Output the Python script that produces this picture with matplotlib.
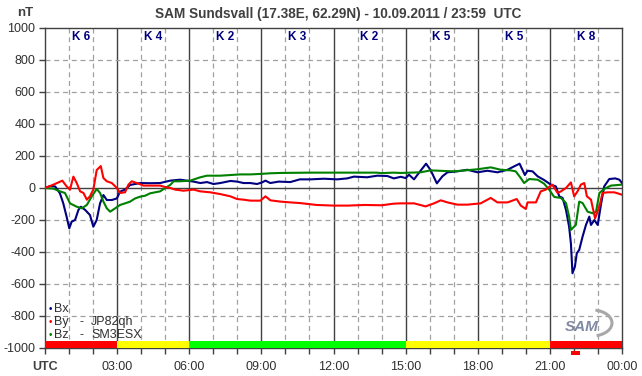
import matplotlib
matplotlib.use("Agg")
import matplotlib.pyplot as plt
from matplotlib.patches import Rectangle, Arc

plt.rcParams['font.family'] = ['Liberation Sans', 'DejaVu Sans']

title = "SAM Sundsvall (17.38E, 62.29N) - 10.09.2011 / 23:59  UTC"
k_labels = ["K 6", "K 4", "K 2", "K 3", "K 2", "K 5", "K 5", "K 8"]
x_tick_labels = ["UTC", "03:00", "06:00", "09:00", "12:00", "15:00", "18:00", "21:00", "00:00"]
y_ticks = [1000, 800, 600, 400, 200, 0, -200, -400, -600, -800, -1000]

bx_t = [0, 0.21, 0.42, 0.62, 0.76, 0.9, 1.01, 1.11, 1.25, 1.39, 1.49, 1.67, 1.87, 2.01, 2.15,
        2.29, 2.43, 2.57, 2.78, 2.99, 3.12, 3.33, 3.54, 3.96, 4.37, 4.79, 5.21, 5.62, 5.9, 6.18,
        6.46, 6.74, 7.01, 7.29, 7.71, 7.99, 8.26, 8.54, 8.82, 9.03, 9.17, 9.37, 9.72, 10.2, 10.6,
        11.04, 11.6, 12.15, 12.57, 12.85, 13.4, 13.82, 14.24, 14.51, 14.8, 15.0, 15.14, 15.35,
        15.56, 15.85, 16.04, 16.3, 16.53, 16.74, 17.15, 17.57, 17.99, 18.4, 18.82, 19.24, 19.51,
        19.74, 19.96, 20.07, 20.28, 20.49, 20.76, 21.04, 21.25, 21.39, 21.53, 21.67, 21.8, 21.875,
        21.94, 22.04, 22.12, 22.22, 22.36, 22.5, 22.64, 22.71, 22.85, 22.99, 23.125, 23.26, 23.47,
        23.72, 23.89, 24.0]
bx_v = [0, 12, 10, -33, -96, -180, -252, -210, -200, -137, -117, -137, -169, -242, -200,
        -96, -44, -75, -75, -65, -23, -10, 19, 31, 30, 31, 46, 52, 46, 40,
        31, 37, 25, 31, 44, 40, 31, 31, 25, 35, 46, 31, 40, 37, 54,
        54, 58, 54, 60, 71, 67, 77, 75, 60, 70, 62, 83, 54,
        96, 152, 112, 29, 73, 98, 104, 114, 98, 108, 98, 114, 135,
        152, 81, 108, 104, 73, 50, 21, 10, -52, -62, -137, -242, -346,
        -533, -492, -408, -387, -304, -231, -179, -231, -200, -231, -104, 10, 56,
        60, 52, 31]

by_t = [0, 0.35, 0.56, 0.72, 0.9, 1.04, 1.18, 1.32, 1.46, 1.6, 1.74, 1.87, 2.01, 2.15, 2.32,
        2.43, 2.57, 2.78, 2.99, 3.12, 3.33, 3.47, 3.61, 3.82, 4.1, 4.37, 4.79, 5.0, 5.21, 5.42,
        5.76, 6.18, 6.46, 6.875, 7.29, 7.71, 7.99, 8.26, 8.54, 8.96, 9.17, 9.375, 9.79, 10.2,
        10.6, 11.3, 12.0, 12.6, 13.3, 14.0, 14.5, 14.79, 15.35, 15.83, 16.18, 16.46, 16.74,
        17.15, 17.57, 18.12, 18.54, 18.82, 19.24, 19.62, 19.79, 20.0, 20.07, 20.42, 20.62,
        20.83, 21.1, 21.32, 21.46, 21.67, 21.875, 22.01, 22.15, 22.29, 22.43, 22.54, 22.71,
        22.88, 23.06, 23.19, 23.4, 23.68, 24.0]
by_v = [0, 21, 35, 46, 10, -10, 71, 31, -21, -31, -73, -52, -10, 112, 137,
        62, 42, 31, 0, -31, -27, 21, 42, 31, 15, 15, 15, 6, 0, -10,
        -17, -10, -21, -27, -38, -52, -69, -73, -79, -79, -52, -77, -85, -90,
        -94, -106, -110, -110, -106, -108, -98, -96, -96, -115, -96, -77, -90,
        -104, -104, -96, -62, -90, -90, -69, -110, -131, -90, -90, -21,
        -10, 21, -31, -21, 0, 35, -52, -21, 21, 31, -52, -73,
        -190, -115, -31, -27, -27, -42]

bz_t = [0, 0.35, 0.62, 0.83, 1.04, 1.32, 1.53, 1.74, 1.94, 2.15, 2.29, 2.43, 2.57, 2.71, 2.92,
        3.12, 3.33, 3.54, 3.75, 3.96, 4.17, 4.375, 4.79, 5.0, 5.21, 5.35, 5.62, 6.04, 6.46, 6.74,
        7.29, 7.71, 8.12, 8.54, 8.96, 9.375, 9.79, 11.0, 13.0, 13.8, 14.0, 14.5, 14.79, 15.62,
        16.04, 17.01, 17.99, 18.54, 18.96, 19.37, 19.58, 19.79, 19.93, 20.14, 20.49, 20.76,
        20.97, 21.18, 21.46, 21.67, 21.8, 21.875, 22.08, 22.22, 22.36, 22.57, 22.78, 22.92,
        23.06, 23.26, 23.54, 24.0]
bz_v = [0, -4, -21, -31, -96, -117, -127, -106, -54, -6, -31, -85, -127, -148, -127,
        -106, -96, -85, -65, -54, -48, -33, -21, 0, 19, 42, 42, 46, 67, 77,
        77, 81, 85, 85, 88, 92, 94, 96, 96, 96, 93, 96, 94, 98,
        110, 104, 117, 129, 114, 110, 104, 62, 31, 56, 52, 27,
        -10, -56, -62, -94, -179, -262, -231, -85, -94, -148, -158, -148,
        -31, -6, 15, 21]

bar_starts = [0, 3, 6, 15, 21]
bar_ends = [3, 6, 15, 21, 24]
bar_colors = ["#ff0000", "#ffff00", "#00ff00", "#ffff00", "#ff0000"]

fig = plt.figure(figsize=(6.42, 3.76), dpi=100)
ax = fig.add_axes([45/642, 1-348/376, 577/642, 320/376])
ax.set_xlim(0, 24)
ax.set_ylim(-1000, 1000)

grid_c = "#a0a0a0"
frame_c = "#404040"
for h in range(1, 24):
    if h % 3 == 0:
        ax.axvline(h, color=frame_c, lw=1.0, zorder=1)
    else:
        ax.axvline(h, color=grid_c, lw=0.9, ls=(0, (4, 3)), zorder=1)
for v in y_ticks[1:-1]:
    if v == 0:
        ax.axhline(0, color=frame_c, lw=1.0, zorder=1)
    else:
        ax.axhline(v, color=grid_c, lw=0.9, ls=(0, (4, 3)), zorder=1)

ax.plot(bx_t, bx_v, color="#000080", lw=1.5, zorder=3)
ax.plot(bz_t, bz_v, color="#008000", lw=1.5, zorder=4)
ax.plot(by_t, by_v, color="#ff0000", lw=1.5, zorder=5)

for s, e, c in zip(bar_starts, bar_ends, bar_colors):
    ax.add_patch(Rectangle((s, -1000), e - s, 42, facecolor=c, edgecolor="none", zorder=6))

for i, k in enumerate(k_labels):
    ax.text(1.5 + 3 * i, 944, k, ha="center", va="center", color="#000080",
            fontsize=8.5, fontweight="bold", zorder=7)

# red marker under the axis
ax.add_patch(Rectangle((21.875, -1044), 0.375, 25, facecolor="#ff0000", edgecolor="none",
                       clip_on=False, zorder=7))

for sp in ax.spines.values():
    sp.set_color(frame_c)
    sp.set_linewidth(1.0)

ax.set_yticks(y_ticks)
ax.set_yticklabels([str(v) for v in y_ticks])
ax.set_xticks(list(range(0, 25, 3)))
ax.set_xticklabels(x_tick_labels)
ax.set_xticks(list(range(0, 25)), minor=True)
ax.tick_params(axis="both", which="both", direction="out", colors=frame_c,
               labelcolor="#303030", labelsize=9, length=4, width=1.0)
ax.tick_params(axis="x", which="major", pad=5)
ax.tick_params(axis="y", pad=3)
ax.get_xticklabels()[0].set_fontweight("bold")
ax.get_xticklabels()[0].set_color("#404040")

fig.text(338/642, 1-14/376, title, ha="center", va="center", fontsize=9.8,
         fontweight="bold", color="#404040")
fig.text(25/642, 1-13/376, "nT", ha="center", va="center", fontsize=9.5,
         fontweight="bold", color="#404040")

# legend
leg_items = [("#000080", "Bx", "", ""), ("#ff0000", "By", "-", "JP82qh"),
             ("#008000", "Bz", "-", "SM3ESX")]
leg_y = [309, 322, 335]
for (c, a, d, b), yy in zip(leg_items, leg_y):
    fy = 1 - yy/376
    fig.text(50.7/642, fy, "\u2022", color=c, fontsize=7, ha="center", va="center")
    fig.text(54/642, fy, a, color="#303030", fontsize=9, ha="left", va="center")
    if d:
        fig.text(79/642, fy, d, color="#303030", fontsize=9, ha="left", va="center")
        fig.text(91/642, fy, b, color="#303030", fontsize=9, ha="left", va="center")

# SAM logo approximation
fig.text(582/642, 1-327/376, "SAM", color="#6a7494", fontsize=11, fontstyle="italic",
         fontweight="bold", ha="center", va="center", alpha=0.85)
logo_ax = fig.add_axes([556/642, 1-342/376, 62/642, 34/376])
logo_ax.set_xlim(0, 62)
logo_ax.set_ylim(0, 34)
logo_ax.axis("off")
logo_ax.patch.set_alpha(0)
logo_ax.add_patch(Arc((36, 19), 40, 26, theta1=-70, theta2=75, color="#a8a8a8", lw=2.2))

fig.savefig("out.png", dpi=100)
